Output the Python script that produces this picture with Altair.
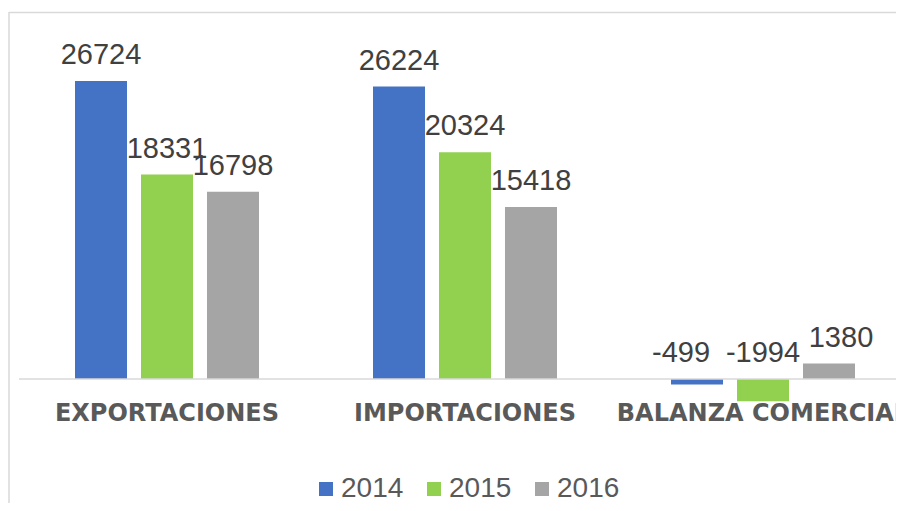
import altair as alt
import pandas as pd

categories = ["EXPORTACIONES", "IMPORTACIONES", "BALANZA COMERCIAL"]
years = ["2014", "2015", "2016"]
values_2014 = [26724, 26224, -499]
values_2015 = [18331, 20324, -1994]
values_2016 = [16798, 15418, 1380]
colors = ["#4472C4", "#92D050", "#A5A5A5"]

rows = []
for yr, vals in zip(years, [values_2014, values_2015, values_2016]):
    for cat, v in zip(categories, vals):
        rows.append({"cat": cat, "year": yr, "value": v, "labelY": max(v, 0),
                     "label": str(v)})
df = pd.DataFrame(rows)

k = 298 / 26724.0
H = 390
ymax = 367 / k
ymin = ymax - H / k

x_enc = alt.X("cat:N", sort=categories,
              scale=alt.Scale(range=[0, 894], paddingInner=0.3826, paddingOuter=0.1913),
              axis=alt.Axis(title=None, ticks=False, domain=False, labelAngle=0,
                            labelFont="DejaVu Sans", labelFontWeight="bold",
                            labelFontSize=24, labelColor="#595959", labelLimit=500,
                            labelBaseline="alphabetic", labelPadding=18,
                            labelOverlap=False, grid=False))
xo_enc = alt.XOffset("year:N", sort=years, scale=alt.Scale(paddingInner=0.2121, paddingOuter=0))
y_scale = alt.Scale(domain=[ymin, ymax], nice=False, zero=False)

base = alt.Chart(df)

bars = base.mark_bar().encode(
    x=x_enc,
    xOffset=xo_enc,
    y=alt.Y("value:Q", scale=y_scale, axis=None),
    color=alt.Color("year:N", sort=years,
                    scale=alt.Scale(domain=years, range=colors),
                    legend=alt.Legend(title=None, orient="none", direction="horizontal",
                                      legendX=294, legendY=463, padding=0,
                                      symbolType="square", symbolSize=196,
                                      symbolStrokeWidth=0, labelFont="Liberation Sans",
                                      labelFontSize=28, labelColor="#595959",
                                      labelOffset=1, columnPadding=16)),
)


def label_layer(cond, dx):
    return base.transform_filter(cond).mark_text(
        font="Liberation Sans", fontSize=29, color="#404040",
        baseline="alphabetic", dy=-17, dx=dx).encode(
        x=alt.X("cat:N", sort=categories),
        xOffset=alt.XOffset("year:N", sort=years),
        y=alt.Y("labelY:Q"),
        text=alt.Text("label:N"),
    )


labels_main = label_layer("datum.cat != 'BALANZA COMERCIAL' || datum.year == '2015'", 0)
labels_a = label_layer("datum.cat == 'BALANZA COMERCIAL' && datum.year == '2014'", -16)
labels_b = label_layer("datum.cat == 'BALANZA COMERCIAL' && datum.year == '2016'", 12)

one = pd.DataFrame({"value": [0]})
baseline = alt.Chart(one).mark_rule(color="#d9d9d9", strokeWidth=1.3).encode(
    y=alt.Y("value:Q"), x=alt.value(1), x2=alt.value(1000))

frame_left = alt.Chart(one).mark_rule(color="#d9d9d9", strokeWidth=1.5).encode(
    x=alt.value(-9), y=alt.value(0), y2=alt.value(700))
frame_top = alt.Chart(one).mark_rule(color="#d9d9d9", strokeWidth=1.5).encode(
    y=alt.value(0.5), x=alt.value(-9), x2=alt.value(1000))

chart = alt.layer(frame_left, frame_top, bars, baseline, labels_main, labels_a, labels_b).properties(
    width=878, height=H,
    background="white",
    autosize=alt.AutoSizeParams(type="none"),
    padding={"left": 10, "top": 4, "right": 0, "bottom": 101},
).configure_view(strokeWidth=0, stroke="transparent")

chart.save("out.html", embed_options={"renderer": "svg", "actions": False})
